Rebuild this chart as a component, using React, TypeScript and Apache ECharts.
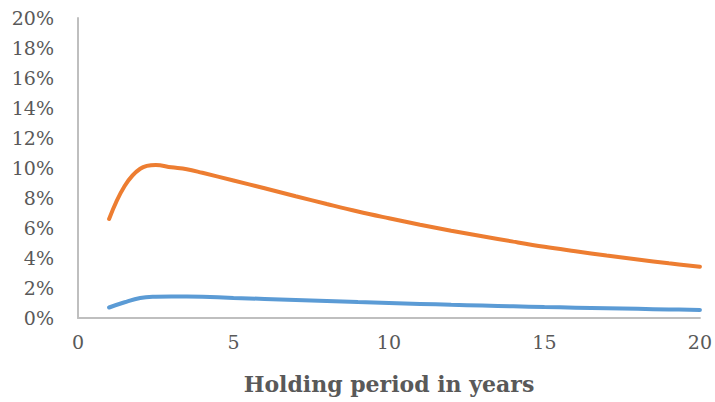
import React, { useEffect, useRef } from "react";
import * as echarts from "echarts";

const years = [1, 1.5, 2, 2.5, 3, 3.5, 4, 5, 6, 7, 8, 9, 10, 11, 12, 13, 14, 15, 16, 17, 18, 19, 20];
const orangeSeries = [6.6, 8.8, 9.95, 10.2, 10.05, 9.92, 9.68, 9.17, 8.65, 8.12, 7.6, 7.1, 6.65, 6.22, 5.82, 5.45, 5.09, 4.75, 4.45, 4.16, 3.9, 3.65, 3.42];
const blueSeries = [0.7, 1.05, 1.33, 1.42, 1.44, 1.44, 1.42, 1.34, 1.27, 1.2, 1.13, 1.06, 1.0, 0.94, 0.88, 0.83, 0.78, 0.73, 0.69, 0.65, 0.61, 0.57, 0.54];
const xTitle = "Holding period in years";

const FONT = "'DejaVu Serif', serif";
const TEXT = "#595959";

export default function App() {
  const ref = useRef<HTMLDivElement>(null);
  useEffect(() => {
    if (!ref.current) return;
    const chart = echarts.init(ref.current, undefined, { renderer: "svg" });
    chart.setOption({
      animation: false,
      backgroundColor: "#ffffff",
      grid: { left: 78, right: 15, top: 18, bottom: 84, containLabel: false },
      xAxis: {
        type: "value",
        min: 0,
        max: 20,
        interval: 5,
        name: xTitle,
        nameLocation: "middle",
        nameGap: 55,
        nameTextStyle: { fontFamily: FONT, fontSize: 22, fontWeight: "bold", color: TEXT },
        axisLine: { show: true, lineStyle: { color: "#bfbfbf", width: 2 } },
        axisTick: { show: false },
        splitLine: { show: false },
        axisLabel: { fontFamily: FONT, fontSize: 19, color: TEXT, margin: 14 },
      },
      yAxis: {
        type: "value",
        min: 0,
        max: 20,
        interval: 2,
        axisLine: { show: true, lineStyle: { color: "#bfbfbf", width: 2 } },
        axisTick: { show: false },
        splitLine: { show: false },
        axisLabel: { fontFamily: FONT, fontSize: 19, color: TEXT, margin: 24, formatter: (v: number) => v + "%" },
      },
      series: [
        {
          type: "line",
          data: years.map((x, i) => [x, blueSeries[i]]),
          smooth: 0.4,
          showSymbol: false,
          lineStyle: { color: "#5B9BD5", width: 4, cap: "round" },
          itemStyle: { color: "#5B9BD5" },
        },
        {
          type: "line",
          data: years.map((x, i) => [x, orangeSeries[i]]),
          smooth: 0.4,
          showSymbol: false,
          lineStyle: { color: "#ED7D31", width: 4, cap: "round" },
          itemStyle: { color: "#ED7D31" },
        },
      ],
    });
    return () => chart.dispose();
  }, []);
  return <div ref={ref} style={{ width: 715, height: 402, position: "absolute", left: 0, top: 0 }} />;
}
